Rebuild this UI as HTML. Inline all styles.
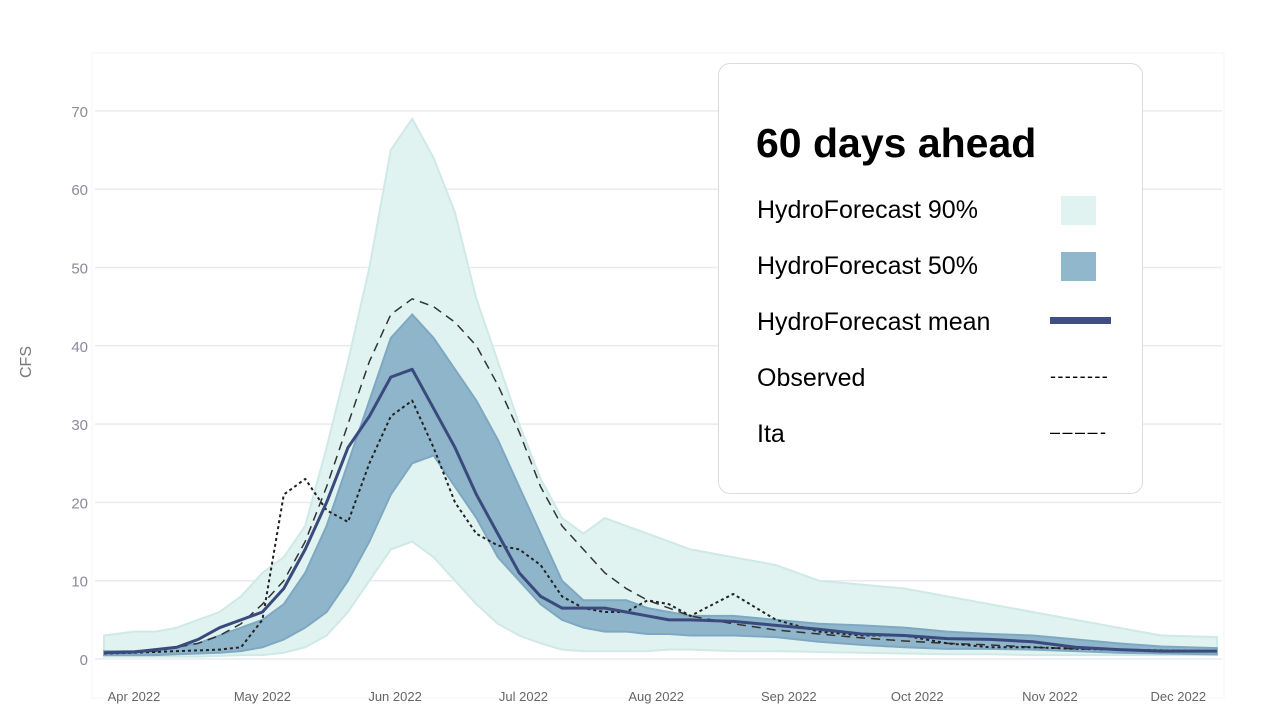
<!DOCTYPE html>
<html><head><meta charset="utf-8"><style>
body{margin:0;width:1280px;height:720px;background:#fff;overflow:hidden;font-family:"Liberation Sans",sans-serif}
svg{position:absolute;left:0;top:0}
#legend{position:absolute;left:718px;top:63px;width:423px;height:429px;border:1.5px solid #dcdcdc;border-radius:12px;background:#fff}
.t{position:absolute;left:37px;top:56px;font-size:41px;font-weight:bold;color:#000}
.e{position:absolute;left:38px;font-size:25px;color:#000}
.sw{position:absolute;left:342px;width:35px;height:29px}
.sym{position:absolute;left:331px;font-size:18px;color:#000}
</style></head><body>
<svg id="chart" width="1280" height="720"></svg>
<div id="legend">
 <div class="t">60 days ahead</div>
 <div class="e" style="top:132px">HydroForecast 90%</div>
 <div class="sw" style="top:132px;background:#e0f3f1"></div>
 <div class="e" style="top:188px">HydroForecast 50%</div>
 <div class="sw" style="top:188px;background:#91b7cc"></div>
 <div class="e" style="top:244px">HydroForecast mean</div>
 <div style="position:absolute;left:331px;top:253px;width:61px;height:7px;background:#3f5080"></div>
 <div class="e" style="top:300px">Observed</div>
 <div class="sym" style="top:302px;letter-spacing:1.4px">--------</div>
 <div class="e" style="top:356px">Ita</div>
 <div class="sym" style="top:358px;letter-spacing:2.5px">––––-</div>
</div>
<script>
const days=[-7,0,5,10,15,20,25,30,35,40,45,50,55,60,65,70,75,80,85,90,95,100,105,110,115,120,125,130,140,150,160,170,180,190,200,210,220,230,240,253];
const p95=[3,3.5,3.5,4,5,6,8,11,13,17,27,38,50,65,69,64,57,46,38,30,23,18,16,18,17,16,15,14,13,12,10,9.5,9,8,7,6,5,4,3,2.8];
const p75=[1,1,1.2,1.5,2,3,4,5,7,11,17,25,33,41,44,41,37,33,28,22,16,10,7.5,7.5,7.5,6.5,6,5.5,5.5,5,4.5,4.3,4,3.5,3.2,3,2.5,2,1.6,1.4];
const meanV=[0.8,0.9,1.2,1.5,2.5,4,5,6,9,14,20,27,31,36,37,32,27,21,16,11,8,6.5,6.5,6.5,6,5.5,5,5,4.8,4.3,3.8,3.2,3,2.6,2.5,2.2,1.5,1.2,1,1];
const p25=[0.5,0.5,0.5,0.6,0.7,0.8,1,1.5,2.5,4,6,10,15,21,25,26,22,18,13,10,7,5,4,3.5,3.5,3.2,3.2,3,3,2.8,2.2,1.8,1.5,1.3,1.3,1.2,1,0.8,0.7,0.6];
const p5=[0.3,0.3,0.3,0.3,0.3,0.4,0.5,0.5,0.8,1.5,3,6,10,14,15,13,10,7,4.5,3,2,1.2,1,1,1,1,1.2,1.2,1,1,0.9,0.8,0.7,0.6,0.6,0.5,0.5,0.5,0.5,0.5];
const observed=[0.7,0.8,0.9,1,1.1,1.2,1.5,5,21,23,19,17.5,25,31,33,27,20,16,14.5,14,12,8,6.5,6,6,7.5,7,5.5,8.3,5,3.5,3,3,2,1.5,1.5,1.3,1.2,1.1,1];
const ita=[0.8,0.9,1,1.5,2,3,4.5,7,10,15,22,30,38,44,46,45,43,40,35,29,22,17,14,11,9,7.5,6.5,5.5,4.5,3.7,3.2,2.7,2.3,2,1.8,1.5,1.3,1.2,1.1,1];
const yTicks=[0,10,20,30,40,50,60,70];
const xLabels=["Apr 2022","May 2022","Jun 2022","Jul 2022","Aug 2022","Sep 2022","Oct 2022","Nov 2022","Dec 2022"];
const xLabelDays=[0,30,61,91,122,153,183,214,244];
const X=d=>134+d*4.28, Y=v=>659-v*7.83;
const svg=document.getElementById('chart'),NS='http://www.w3.org/2000/svg';
function mk(t,a){const e=document.createElementNS(NS,t);for(const k in a)e.setAttribute(k,a[k]);svg.appendChild(e);return e;}
const frame=mk('rect',{x:92,y:53,width:1132,height:645,fill:'none',stroke:'#f4f4f4'});


yTicks.forEach(v=>{
 const l=mk('line',{x1:95,x2:1222,y1:Y(v),y2:Y(v),stroke:'#e9ebf0','stroke-width':1.5});
 
 
 const t=mk('text',{x:88,y:Y(v)+6,'text-anchor':'end','font-size':15,fill:'#8a8a9a'});t.textContent=v;
 
 
});
xLabels.forEach((s,i)=>{
 const t=mk('text',{x:X(xLabelDays[i]),y:701,'text-anchor':'middle','font-size':13,fill:'#666'});t.textContent=s;
 
 
});
const yt=mk('text',{x:0,y:0,transform:'translate(31,362) rotate(-90)','text-anchor':'middle','font-size':16,fill:'#777'});yt.textContent='CFS';


function band(lo,hi,fill,stroke,name){
 let d='M'+days.map((x,i)=>X(x)+','+Y(hi[i])).join('L');
 for(let i=days.length-1;i>=0;i--)d+='L'+X(days[i])+','+Y(lo[i]);
 const p=mk('path',{d:d+'Z',fill:fill,stroke:stroke,'stroke-width':2});
 
 
}
function line(v,stroke,w,dash,name){
 const p=mk('polyline',{points:days.map((x,i)=>X(x)+','+Y(v[i])).join(' '),fill:'none',stroke:stroke,'stroke-width':w,'stroke-dasharray':dash,'stroke-linejoin':'round'});
 
 
}
band(p5,p95,'#e0f3f1','#cfe9e6','band-90');
band(p25,p75,'#8fb5cb','#7ea8c2','band-50');
line(ita,'#333',1.5,'9 6','ita-line');
line(observed,'#222',2,'3 3','observed-line');
line(meanV,'#3a4a7c',3,'none','mean-line');
</script>
</body></html>
